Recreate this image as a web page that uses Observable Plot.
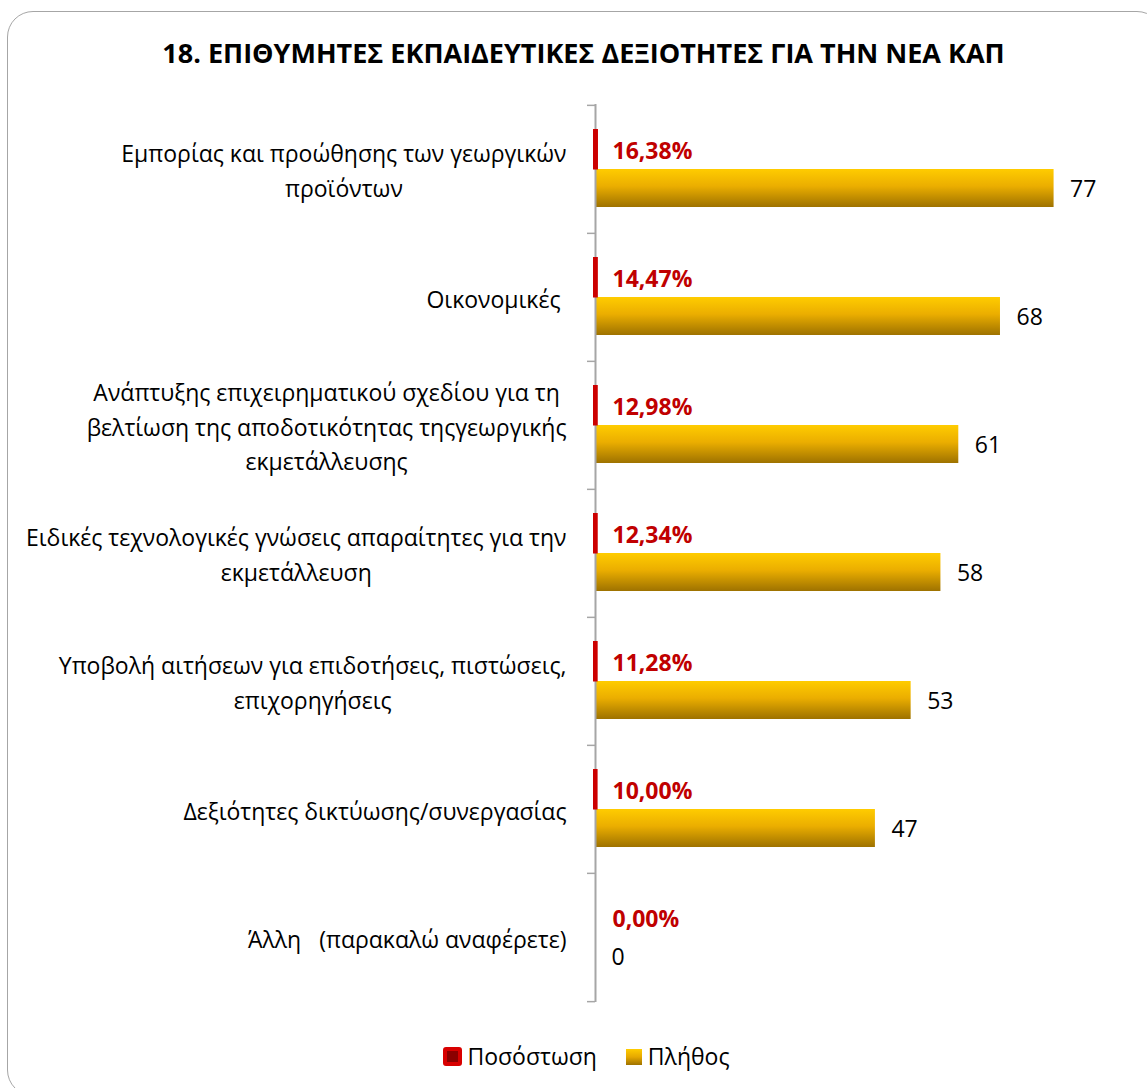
<!DOCTYPE html>
<html>
<head>
<meta charset="utf-8">
<script src="https://cdn.jsdelivr.net/npm/d3@7"></script>
<script src="https://cdn.jsdelivr.net/npm/@observablehq/plot@0.6"></script>
<style>
  html, body { margin: 0; padding: 0; background: #fff; }
  #wrap { position: relative; width: 1147px; height: 1088px; overflow: hidden; font-family: "Open Sans", sans-serif; }
  #frame { position: absolute; left: 7px; top: 11px; width: 1156px; height: 1085px; box-sizing: border-box;
           border: 1.5px solid #A6A6A6; border-radius: 26px; }
  #title { position: absolute; left: 0; top: 39px; width: 1167px; text-align: center; font-weight: bold;
           font-size: 27px; line-height: 27px; color: #000; white-space: nowrap; }
  #chart { position: absolute; left: 0; top: 0; }
  #chart svg text { white-space: pre; }
  #legend { position: absolute; left: 0; top: 1045px; width: 1173px; display: flex; justify-content: center;
            align-items: center; font-size: 23px; line-height: 23px; color: #000; }
  .sw-red { width: 19px; height: 19px; box-sizing: border-box; border: 4.5px solid #D80000; border-radius: 3px;
            background: #8B0000; margin-right: 5px; }
  .sw-gold { width: 16px; height: 16px; background: linear-gradient(#FFCC00, #E6A800 50%, #9E7200);
             margin-left: 29px; margin-right: 6px; }
</style>
</head>
<body>
<div id="wrap">
  <div id="frame"></div>
  <div id="title">18. ΕΠΙΘΥΜΗΤΕΣ ΕΚΠΑΙΔΕΥΤΙΚΕΣ ΔΕΞΙΟΤΗΤΕΣ ΓΙΑ ΤΗΝ ΝΕΑ ΚΑΠ</div>
  <div id="chart"></div>
  <div id="legend">
    <span class="sw-red"></span><span>Ποσόστωση</span>
    <span class="sw-gold"></span><span>Πλήθος</span>
  </div>
</div>
<script>
const categories = [
  "Εμπορίας και προώθησης των γεωργικών\nπροϊόντων",
  "Οικονομικές ",
  "Ανάπτυξης επιχειρηματικού σχεδίου για τη\nβελτίωση της αποδοτικότητας τηςγεωργικής\nεκμετάλλευσης",
  "Ειδικές τεχνολογικές γνώσεις απαραίτητες για την\nεκμετάλλευση",
  "Υποβολή αιτήσεων για επιδοτήσεις, πιστώσεις,\nεπιχορηγήσεις",
  "Δεξιότητες δικτύωσης/συνεργασίας",
  "Άλλη   (παρακαλώ αναφέρετε)"
];
const percents = [16.38, 14.47, 12.98, 12.34, 11.28, 10.00, 0.00];
const counts = [77, 68, 61, 58, 53, 47, 0];

const rows = categories.map((c, i) => ({cat: c, pct: percents[i], count: counts[i]}));

const W = 1147, H = 1088, mTop = 104, mBottom = 86, mLeft = 595, mRight = 16;
const bw = (H - mTop - mBottom) / categories.length;

const labelSize = 23;
const labelFont = `${labelSize}px "Open Sans"`;
const ctx = document.createElement("canvas").getContext("2d");
ctx.font = labelFont;
const maxW = categories.map(c => Math.max(...c.split("\n").map(l => ctx.measureText(l).width)));

const fmtPct = v => d3.format(".2f")(v).replace(".", ",") + "%";

const defs = () => {
  const d = d3.create("svg:defs");
  const lg = d.append("linearGradient").attr("id", "goldGrad")
    .attr("x1", 0).attr("y1", 0).attr("x2", 0).attr("y2", 1);
  lg.append("stop").attr("offset", "0%").attr("stop-color", "#FFCC00");
  lg.append("stop").attr("offset", "45%").attr("stop-color", "#EBAE00");
  lg.append("stop").attr("offset", "100%").attr("stop-color", "#9E7200");
  return d.node();
};

const labelMarks = categories.map((c, i) => Plot.text([c], {
  y: d => d, text: d => d, frameAnchor: "left", textAnchor: "middle",
  dx: -(29 + maxW[i] / 2), dy: -1, fontSize: labelSize, lineHeight: 34.5 / labelSize, fill: "#000"
}));

const chart = Plot.plot({
  width: W, height: H,
  marginLeft: mLeft, marginRight: mRight, marginTop: mTop, marginBottom: mBottom,
  style: {fontFamily: "Open Sans", background: "transparent", overflow: "visible"},
  x: {domain: [0, 90], axis: null},
  y: {type: "band", domain: categories, padding: 0, axis: null},
  marks: [
    defs,
    Plot.barX(rows, {x: "count", y: "cat", fill: "url(#goldGrad)", insetTop: 64, insetBottom: 26}),
    Plot.ruleX([0], {stroke: "#A6A6A6", strokeWidth: 2}),
    Plot.ruleY(categories, {y: d => d, x1: 0, x2: 0, dy: -bw / 2, insetLeft: -8, stroke: "#A6A6A6", strokeWidth: 1.5}),
    Plot.ruleY([categories[categories.length - 1]], {y: d => d, x1: 0, x2: 0, dy: bw / 2, insetLeft: -8, stroke: "#A6A6A6", strokeWidth: 1.5}),
    Plot.barX(rows.filter(d => d.pct > 0), {x: d => d.pct / 100, y: "cat", fill: "#A00000", stroke: "#CC0000", strokeWidth: 4, insetTop: 26, insetBottom: 65.5}),
    Plot.text(rows, {x: 0, y: "cat", text: d => fmtPct(d.pct), dx: 17, dy: -18, textAnchor: "start", fill: "#C00000", fontWeight: "bold", fontSize: 23}),
    Plot.text(rows, {x: "count", y: "cat", text: d => String(d.count), dx: 16, dy: 20, textAnchor: "start", fill: "#000", fontSize: 23}),
    ...labelMarks
  ]
});
document.getElementById("chart").appendChild(chart);
</script>
</body>
</html>
